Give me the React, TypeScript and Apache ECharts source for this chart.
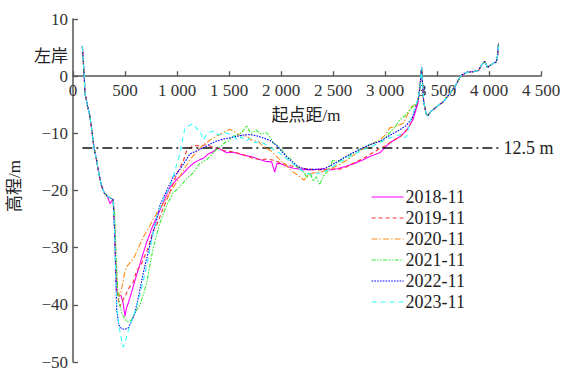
import React, { useEffect, useRef } from "react";
import * as echarts from "echarts";

const SERIES_NAMES = ["2018-11", "2019-11", "2020-11", "2021-11", "2022-11", "2023-11"];
const X_TICKS_MAX = 4500;
const Y_MIN = -50;
const Y_MAX = 10;
const REF_LEVEL = -12.5;

// shared left bank (distance m, elevation m)
const LEFT_BANK: number[][] = [
  [90, 5.2], [96, 3.5], [108, 0], [115, -3], [140, -5.2], [160, -6.8], [178, -9], [200, -12.3],
  [228, -14.8], [241, -16.3], [260, -18], [276, -19.3], [300, -20.4], [330, -21],
];

// shared spike and right bank
const RIGHT_BANK: number[][] = [
  [3335, -2], [3347, 0.5], [3352, 1.5], [3358, -0.5], [3372, -4.5], [3395, -6.6], [3410, -6.9],
  [3440, -6.2], [3500, -5.3], [3560, -4.5], [3625, -3], [3680, -1.6], [3730, 0.1], [3790, 0.7],
  [3850, 0.8], [3900, 1], [3930, 2], [3960, 2.6], [3985, 1.5], [4010, 1.9], [4040, 2.2],
  [4070, 2.5], [4082, 3.5], [4092, 5.7],
];

const S2018: number[][] = [
  [356, -22.3], [385, -21.5], [390, -22], [400, -27], [412, -34], [420, -38], [440, -38.5], [460, -38.3],
  [480, -39.5], [500, -42], [515, -40.5], [535, -39.5], [560, -38], [600, -35.5], [650, -32.5],
  [700, -29.5], [760, -26.5], [810, -24.5], [870, -22], [930, -19.5], [1000, -18], [1060, -17],
  [1110, -16], [1160, -15.2], [1220, -14.6], [1260, -14.3], [1300, -13.6], [1350, -13.2], [1390, -12.5],
  [1430, -12.9], [1480, -13.4], [1540, -13.3], [1600, -13.6], [1660, -13.9], [1720, -14.1],
  [1780, -14.5], [1850, -14.9], [1910, -15], [1940, -16.8], [1960, -15.3], [2000, -15.3],
  [2060, -15.8], [2120, -16.1], [2200, -16.3], [2300, -16.4], [2400, -16.2], [2470, -16.4],
  [2540, -16.2], [2620, -15.8], [2700, -15.3], [2780, -14.7], [2860, -14], [2950, -13.4],
  [3050, -11.6], [3150, -10.5], [3210, -9.4], [3270, -7.6], [3317, -4.7],
];

const S2019: number[][] = [
  [358, -21.3], [385, -21.5], [390, -21.5], [400, -26], [412, -33], [425, -38], [440, -39.5], [452, -40.3],
  [470, -39.5], [500, -38.5], [540, -37], [580, -36], [612, -34], [650, -33.2], [676, -32],
  [720, -30.2], [772, -27], [805, -26], [870, -23], [933, -20.2], [997, -17.2], [1061, -14.8],
  [1093, -13], [1157, -12.1], [1210, -12.2], [1280, -12], [1330, -12.3], [1381, -12.6], [1450, -13],
  [1520, -13.2], [1574, -13.4], [1650, -13.8], [1720, -14.3], [1800, -14.6], [1870, -14.5],
  [1930, -14.7], [2000, -15.2], [2100, -15.7], [2200, -16.1], [2300, -16.3], [2400, -16.4],
  [2480, -16.2], [2560, -16.3], [2640, -15.8], [2720, -15], [2800, -14.3], [2900, -13.2],
  [3000, -12.2], [3080, -11.3], [3160, -10.4], [3230, -9], [3280, -6.5], [3320, -4],
];

const S2020: number[][] = [
  [358, -21.3], [385, -21.5], [390, -21.5], [400, -25], [415, -33], [430, -37.5], [452, -38.5], [470, -37],
  [490, -35], [510, -33.5], [540, -32.8], [580, -32], [630, -30], [680, -28], [730, -26.5],
  [772, -25], [840, -23], [900, -21.4], [960, -19.6], [1020, -17.8], [1070, -16.2], [1125, -14.6],
  [1190, -13.2], [1253, -12], [1310, -11.3], [1370, -10.6], [1445, -9.9], [1480, -9.5], [1510, -9.3],
  [1560, -9.8], [1610, -10.4], [1670, -10.5], [1720, -11.2], [1780, -11.4], [1830, -12.3],
  [1900, -13], [1990, -14.6], [2060, -15.8], [2120, -16.8], [2183, -17.6], [2220, -18.2],
  [2260, -17.3], [2311, -16.9], [2380, -16.8], [2430, -16.5], [2480, -16.2], [2560, -15.5],
  [2640, -14.6], [2720, -13.5], [2800, -12.6], [2880, -11.8], [2960, -11], [3000, -10.3],
  [3048, -9], [3100, -8.8], [3144, -8.5], [3180, -8.2], [3208, -7], [3256, -5.3], [3300, -5], [3320, -4],
];

const S2021: number[][] = [
  [358, -21.3], [385, -21.5], [390, -21.5], [400, -24], [415, -32], [430, -37.5], [450, -40], [470, -41.5],
  [500, -42.5], [520, -43], [545, -42.8], [564, -42.6], [600, -41.2], [644, -40], [680, -38],
  [708, -36.2], [740, -33], [772, -30], [830, -26], [870, -24], [901, -22.6], [960, -20.5],
  [1029, -19.3], [1090, -18], [1157, -16.9], [1221, -15.2], [1285, -14.6], [1340, -13.6],
  [1381, -12.8], [1420, -12.3], [1460, -11.6], [1500, -11.3], [1541, -10.5], [1580, -10.2],
  [1620, -9.9], [1650, -9.2], [1670, -8.6], [1690, -9.4], [1710, -10], [1734, -9.8], [1760, -9.4],
  [1800, -10.1], [1862, -9.9], [1900, -10.8], [1926, -11.7], [1960, -12], [2000, -12.8],
  [2055, -14], [2100, -14.6], [2140, -15.6], [2183, -16.3], [2220, -16.8], [2250, -17.8],
  [2280, -17], [2311, -18.4], [2340, -17.6], [2370, -19], [2407, -17.5], [2440, -16.8],
  [2470, -16], [2500, -14.6], [2536, -15.2], [2580, -14.6], [2640, -14], [2700, -13.4],
  [2760, -12.8], [2850, -12], [2952, -11.4], [3000, -10.8], [3060, -9.6], [3100, -8.8],
  [3144, -7.6], [3200, -6.8], [3256, -5.5], [3300, -4.8], [3320, -4],
];

const S2022: number[][] = [
  [358, -21.3], [385, -21.5], [390, -21.5], [400, -27], [410, -34], [420, -40.8], [440, -43.5], [468, -44.2],
  [500, -44.3], [532, -44], [560, -43], [596, -41.4], [636, -38], [676, -34.4], [720, -31],
  [760, -28], [805, -25.1], [836, -22.6], [901, -20], [960, -17.8], [1029, -16.3], [1125, -13.6],
  [1220, -12.8], [1285, -12.2], [1360, -11.5], [1445, -11], [1510, -10.8], [1574, -10.5],
  [1640, -10.3], [1700, -10.2], [1760, -10.4], [1830, -10.8], [1900, -11.3], [1950, -12],
  [1990, -12.8], [2060, -14.2], [2120, -15.2], [2183, -16], [2250, -16.3], [2311, -16.3],
  [2400, -16.3], [2460, -15.8], [2520, -15.2], [2600, -14.3], [2680, -13.5], [2760, -12.8],
  [2850, -12], [2952, -11.4], [3050, -10.3], [3130, -9.5], [3200, -8.7], [3260, -7.4],
  [3300, -5.2], [3320, -4],
];

const S2023: number[][] = [
  [358, -21.3], [385, -21.5], [390, -21.5], [400, -27], [412, -36], [425, -41], [445, -44], [465, -46],
  [484, -47.4], [500, -46.5], [532, -44.5], [570, -42.5], [612, -40.2], [660, -37], [708, -33.2],
  [760, -28.5], [805, -24.5], [870, -21.5], [933, -19.3], [980, -16.5], [1029, -13.5], [1055, -11],
  [1077, -9], [1110, -8.7], [1157, -8.3], [1190, -9.2], [1221, -9.6], [1253, -11.2], [1290, -10],
  [1349, -9.6], [1400, -10.3], [1450, -9.8], [1500, -10.1], [1541, -10.5], [1580, -11.1],
  [1620, -10.6], [1660, -11.4], [1700, -10.9], [1750, -11.6], [1800, -11.5], [1860, -12],
  [1920, -12.8], [1990, -13.5], [2060, -14.5], [2120, -15.4], [2183, -16.3], [2250, -17],
  [2311, -17.2], [2380, -16.9], [2440, -16.5], [2500, -15.8], [2560, -15.1], [2640, -14.3],
  [2720, -13.5], [2800, -12.8], [2880, -12.2], [2960, -11.5], [3040, -10.8], [3100, -10.5],
  [3150, -10.2], [3180, -10.8], [3208, -10.5], [3240, -8], [3280, -6], [3320, -3.8],
];

const SERIES_DATA = [S2018, S2019, S2020, S2021, S2022, S2023];

const COLORS = ["#ff00ff", "#ff3333", "#ff8c1a", "#33ee33", "#0000ff", "#33ffff"];
const DASHES: any[] = ["solid", [4, 3], [6, 2, 1.5, 2], [4, 1.5, 1.5, 1.5, 1.5, 1.5], [1.6, 1.2], [5, 4]];

const SERIF = "'Liberation Serif', 'Times New Roman', serif";
const CJK = "'Liberation Serif', 'Noto Sans CJK SC', serif";

function fmtX(v: number): string {
  if (v >= 1000) {
    return `${Math.floor(v / 1000)} ${String(v % 1000).padStart(3, "0")}`;
  }
  return String(v);
}
function fmtY(v: number): string {
  return v < 0 ? "\u2212" + String(-v) : String(v);
}

const AXIS_COLOR = "#555";

export default function App() {
  const ref = useRef<HTMLDivElement>(null);
  useEffect(() => {
    if (!ref.current) return;
    const chart = echarts.init(ref.current, undefined, { renderer: "svg" });
    const plotTop = 19;
    const plotHeight = 343;
    const zeroY = plotTop + (plotHeight * Y_MAX) / (Y_MAX - Y_MIN);
    const series: any[] = SERIES_NAMES.map((name, i) => {
      const s: any = {
        name,
        type: "line",
        xAxisIndex: 0,
        yAxisIndex: 0,
        data: [...LEFT_BANK, ...SERIES_DATA[i], ...RIGHT_BANK],
        showSymbol: false,
        symbol: "none",
        smooth: false,
        silent: true,
        lineStyle: { color: COLORS[i], width: 1.1, type: DASHES[i] },
        itemStyle: { color: COLORS[i] },
        z: 3 + i,
      };
      if (i === 0) {
        s.markLine = {
          silent: true,
          symbol: "none",
          lineStyle: { color: "#111", width: 1.6, type: [10, 4, 2, 4] },
          label: {
            show: true,
            position: "end",
            formatter: "12.5 m",
            fontSize: 18,
            color: "#222",
            fontFamily: SERIF,
            distance: 3,
          },
          data: [[{ coord: [90, REF_LEVEL] }, { coord: [4110, REF_LEVEL] }]],
        };
      }
      return s;
    });
    chart.setOption({
      animation: false,
      backgroundColor: "#fff",
      grid: [
        { left: 73, width: 468, top: plotTop, height: plotHeight, outerBoundsMode: "none", containLabel: false },
        { left: 73, width: 468, top: plotTop, height: zeroY - plotTop, outerBoundsMode: "none", containLabel: false },
      ],
      xAxis: [
        {
          type: "value",
          gridIndex: 0,
          min: 0,
          max: X_TICKS_MAX,
          interval: 500,
          show: false,
        },
        {
          type: "value",
          gridIndex: 1,
          position: "bottom",
          min: 0,
          max: X_TICKS_MAX,
          interval: 500,
          axisLine: { onZero: false, lineStyle: { color: AXIS_COLOR, width: 1.5 } },
          axisTick: { inside: true, length: 5, lineStyle: { color: AXIS_COLOR, width: 1.3 } },
          axisLabel: { formatter: fmtX, fontSize: 17, color: "#333", fontFamily: SERIF, margin: 6 },
          splitLine: { show: false },
        },
      ],
      yAxis: [
        {
          type: "value",
          gridIndex: 0,
          min: Y_MIN,
          max: Y_MAX,
          interval: 10,
          axisLine: { show: true, onZero: false, lineStyle: { color: AXIS_COLOR, width: 1.5 } },
          axisTick: { show: true, inside: true, length: 5, lineStyle: { color: AXIS_COLOR, width: 1.3 } },
          axisLabel: { formatter: fmtY, fontSize: 17, color: "#333", fontFamily: SERIF, margin: 5 },
          splitLine: { show: false },
        },
        {
          type: "value",
          gridIndex: 1,
          min: 0,
          max: Y_MAX,
          show: false,
        },
      ],
      legend: {
        orient: "vertical",
        left: 366,
        top: 183,
        itemWidth: 32,
        itemHeight: 12,
        itemGap: 3,
        itemStyle: { opacity: 0 },
        lineStyle: { width: 1.2 },
        textStyle: { fontSize: 18, color: "#222", fontFamily: SERIF, padding: [0, 0, 0, -3] },
        data: SERIES_NAMES,
      },
      graphic: [
        {
          type: "text",
          left: 34,
          top: 48,
          style: { text: "左岸", fontSize: 17, fill: "#222", fontFamily: CJK },
        },
        {
          type: "text",
          x: 306,
          y: 115,
          style: {
            text: "起点距/m",
            fontSize: 17,
            fill: "#222",
            fontFamily: CJK,
            align: "center",
            verticalAlign: "middle",
          },
        },
        {
          type: "text",
          x: 14,
          y: 186,
          rotation: Math.PI / 2,
          style: {
            text: "高程/m",
            fontSize: 17,
            fill: "#222",
            fontFamily: CJK,
            align: "center",
            verticalAlign: "middle",
          },
        },
      ],
      series,
    });
    return () => chart.dispose();
  }, []);
  return (
    <div
      ref={ref}
      style={{ position: "absolute", left: 0, top: 0, width: 564, height: 369, background: "#fff" }}
    />
  );
}
